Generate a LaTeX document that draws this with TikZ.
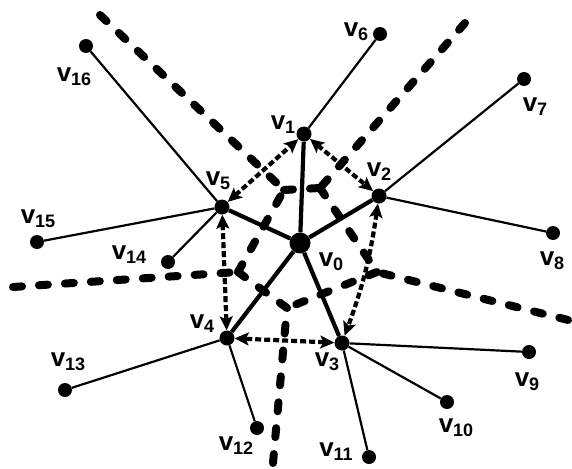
\documentclass[tikz,border=0pt]{standalone}
\usepackage{fontspec}
\setmainfont{Liberation Sans}
\usetikzlibrary{arrows.meta}
\newcommand{\vlab}[1]{v\raisebox{-4pt}{\fontsize{18}{18}\selectfont #1}}
\begin{document}
\begin{tikzpicture}[x=1pt,y=-1pt,
 vtx/.style={circle,fill=black,inner sep=0pt,minimum size=14pt},
 hubvtx/.style={vtx,minimum size=15pt},
 hubzero/.style={vtx,minimum size=21pt},
 lbl/.style={font=\fontsize{26}{26}\selectfont\bfseries,inner sep=0pt},
 leaf/.style={line width=2.2pt},
 spoke/.style={line width=4.2pt},
 link/.style={line width=4.2pt,dash pattern=on 6pt off 3pt,{Stealth[length=14pt,width=13pt,inset=3pt]}-{Stealth[length=14pt,width=13pt,inset=3pt]}},
 border/.style={line width=8pt,line cap=round,dash pattern=on 9pt off 17pt}]
\useasboundingbox (0,0) rectangle (572,468);
% boundary coordinates
\coordinate (c15) at (284,190);
\coordinate (c12) at (320,188);
\coordinate (c23) at (377,272);
\coordinate (c34) at (287,308);
\coordinate (c45) at (238,272);
\coordinate (r15) at (100,15);
\coordinate (r12) at (465,23);
\coordinate (r23) at (568,320);
\coordinate (r34) at (273,463);
\coordinate (r45) at (13,287);
% nodes
\node[hubzero] (v0) at (300,243) {};
\node[hubvtx] (v1) at (304,134) {};
\node[hubvtx] (v2) at (379,196) {};
\node[hubvtx] (v3) at (342,343) {};
\node[hubvtx] (v4) at (227,338) {};
\node[hubvtx] (v5) at (222,207) {};
\node[vtx] (v6) at (380,34) {};
\node[vtx] (v7) at (524,79) {};
\node[vtx] (v8) at (553,233) {};
\node[vtx] (v9) at (529,352) {};
\node[vtx] (v10) at (447,402) {};
\node[vtx] (v11) at (369,457) {};
\node[vtx] (v12) at (257,428) {};
\node[vtx] (v13) at (65,390) {};
\node[vtx] (v14) at (168,262) {};
\node[vtx] (v15) at (37,242) {};
\node[vtx] (v16) at (86,46) {};
% boundaries
\draw[border] (r15) -- (c15);
\draw[border] (r12) -- (c12);
\draw[border] (r23) -- (c23);
\draw[border] (r34) -- (c34);
\draw[border] (r45) -- (c45);
\draw[border] (c15) -- (c12);
\draw[border] (c12) -- (c23);
\draw[border] (c23) -- (c34);
\draw[border] (c34) -- (c45);
\draw[border] (c45) -- (c15);
% edges
\foreach \i in {1,...,5} \draw[spoke] (v0) -- (v\i);
\draw[leaf] (v1) -- (v6);
\draw[leaf] (v2) -- (v7);
\draw[leaf] (v2) -- (v8);
\draw[leaf] (v3) -- (v9);
\draw[leaf] (v3) -- (v10);
\draw[leaf] (v3) -- (v11);
\draw[leaf] (v4) -- (v12);
\draw[leaf] (v4) -- (v13);
\draw[leaf] (v5) -- (v14);
\draw[leaf] (v5) -- (v15);
\draw[leaf] (v5) -- (v16);
\draw[link] (v1) -- (v2);
\draw[link] (v2) to[bend left=6] (v3);
\draw[link] (v3) -- (v4);
\draw[link] (v4) -- (v5);
\draw[link] (v5) -- (v1);
% labels
\node[lbl] (l0) at (331,262) {\vlab{0}};
\node[lbl] (l1) at (283,125) {\vlab{1}};
\node[lbl] (l2) at (379,172) {\vlab{2}};
\node[lbl] (l3) at (327,362) {\vlab{3}};
\node[lbl] (l4) at (202,324) {\vlab{4}};
\node[lbl] (l5) at (218,181) {\vlab{5}};
\node[lbl] (l6) at (356,32) {\vlab{6}};
\node[lbl] (l7) at (535,107) {\vlab{7}};
\node[lbl] (l8) at (552,261) {\vlab{8}};
\node[lbl] (l9) at (527,382) {\vlab{9}};
\node[lbl] (l10) at (456,428) {\vlab{10}};
\node[lbl] (l11) at (336,452) {\vlab{11}};
\node[lbl] (l12) at (236,446) {\vlab{12}};
\node[lbl] (l13) at (68,362) {\vlab{13}};
\node[lbl] (l14) at (129,255) {\vlab{14}};
\node[lbl] (l15) at (38,219) {\vlab{15}};
\node[lbl] (l16) at (74,77) {\vlab{16}};
\end{tikzpicture}
\end{document}
